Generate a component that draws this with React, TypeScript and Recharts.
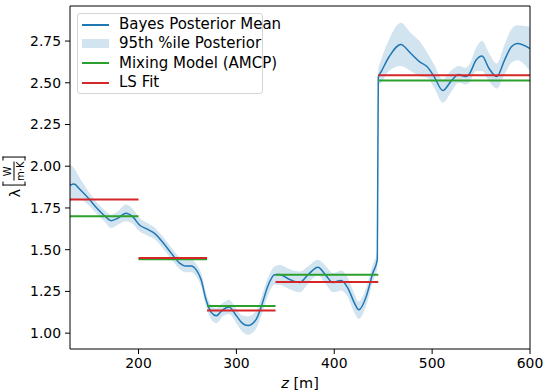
import React from "react";
import { ComposedChart, Area, Line, XAxis, YAxis, ReferenceLine } from "recharts";

// posterior samples (z in m)
const zPoints = [
  130, 134, 140, 150, 158, 165, 172, 179, 187, 194, 201, 209, 217, 226, 234, 242, 248, 254, 259, 264,
  269, 274.5, 279.5, 286, 292.5, 300, 306, 311.8, 320.4, 325.5, 332, 339, 344, 354, 364.6, 373, 383.3,
  391.8, 398.6, 404, 407, 413.9, 420.7, 425.1, 432.7, 439.4, 444, 445, 448, 456, 468, 478, 487, 495,
  502, 511, 519, 527, 534, 538, 545, 551, 558, 566, 574, 581, 587, 600,
];
const meanValues = [
  1.885, 1.893, 1.862, 1.8, 1.745, 1.705, 1.674, 1.689, 1.719, 1.698, 1.648, 1.623, 1.595, 1.535, 1.475,
  1.419, 1.402, 1.403, 1.379, 1.32, 1.2, 1.123, 1.104, 1.14, 1.156, 1.104, 1.06, 1.046, 1.084, 1.16, 1.28,
  1.35, 1.352, 1.323, 1.303, 1.349, 1.395, 1.343, 1.303, 1.313, 1.315, 1.27, 1.18, 1.14, 1.22, 1.36, 1.44,
  2.535, 2.567, 2.656, 2.73, 2.677, 2.627, 2.596, 2.537, 2.453, 2.507, 2.55, 2.537, 2.553, 2.636, 2.66,
  2.587, 2.537, 2.636, 2.716, 2.736, 2.705,
];
const lowerValues = [
  1.78, 1.8, 1.8, 1.76, 1.71, 1.67, 1.63, 1.65, 1.67, 1.655, 1.61, 1.585, 1.56, 1.5, 1.44, 1.385, 1.365,
  1.365, 1.34, 1.28, 1.16, 1.08, 1.06, 1.1, 1.115, 1.06, 1.01, 0.99, 1.03, 1.105, 1.22, 1.29, 1.29, 1.265,
  1.245, 1.295, 1.345, 1.29, 1.245, 1.25, 1.255, 1.215, 1.12, 1.085, 1.165, 1.31, 1.39, 2.48, 2.5, 2.57,
  2.6, 2.57, 2.54, 2.53, 2.47, 2.38, 2.44, 2.5, 2.49, 2.5, 2.57, 2.57, 2.51, 2.465, 2.55, 2.62, 2.635, 2.57,
];
const upperValues = [
  2.01, 1.99, 1.93, 1.84, 1.78, 1.74, 1.71, 1.73, 1.77, 1.745, 1.69, 1.66, 1.63, 1.57, 1.51, 1.455, 1.44,
  1.44, 1.415, 1.36, 1.24, 1.165, 1.15, 1.18, 1.2, 1.145, 1.105, 1.1, 1.135, 1.215, 1.33, 1.4, 1.41, 1.385,
  1.37, 1.4, 1.44, 1.4, 1.36, 1.37, 1.375, 1.33, 1.235, 1.19, 1.275, 1.41, 1.49, 2.58, 2.64, 2.76, 2.86,
  2.8, 2.75, 2.68, 2.61, 2.52, 2.57, 2.6, 2.59, 2.61, 2.71, 2.75, 2.68, 2.615, 2.73, 2.82, 2.845, 2.835,
];

// layer boundaries and piecewise constant fits
const layerBreaks = [130, 200, 270, 340, 445, 600];
const mixingValues = [1.7, 1.443, 1.163, 1.35, 2.513];
const lsValues = [1.8, 1.45, 1.135, 1.307, 2.545];

const xTicks = [200, 300, 400, 500, 600];
const yTicks = [1.0, 1.25, 1.5, 1.75, 2.0, 2.25, 2.5, 2.75];

const X_MIN = 130;
const X_MAX = 600;
const Y_MIN = 0.905;
const Y_MAX = 2.96;

const BLUE = "#1f77b4";
const GREEN = "#2ca02c";
const RED = "#d62728";
const FONT = "'DejaVu Sans', sans-serif";

const posterior = zPoints.map((z, i) => ({
  z,
  mean: meanValues[i],
  band: [lowerValues[i], upperValues[i]],
}));

const segments = (vals: number[]) =>
  vals.map((v, i) => [
    { z: layerBreaks[i], y: v },
    { z: layerBreaks[i + 1], y: v },
  ]);

const LegendRow = ({ swatch, label }: { swatch: React.ReactNode; label: string }) => (
  <div style={{ display: "flex", alignItems: "center", height: 19.3 }}>
    <div style={{ width: 27, display: "flex", alignItems: "center", marginRight: 10 }}>{swatch}</div>
    <span>{label}</span>
  </div>
);

const lineSwatch = (c: string) => <div style={{ width: 27, height: 2, background: c }} />;

export default function App() {
  return (
    <div style={{ position: "absolute", left: 0, top: 0, width: 544, height: 390, background: "#fff", fontFamily: FONT }}>
      <ComposedChart width={544} height={390} margin={{ top: 6, right: 14, bottom: 0, left: 0 }} data={posterior}>
        <XAxis
          dataKey="z"
          type="number"
          domain={[X_MIN, X_MAX]}
          ticks={xTicks}
          allowDataOverflow
          stroke="#000"
          tickSize={5}
          tickMargin={4}
          tick={{ fill: "#000", fontSize: 13.9, fontFamily: FONT }}
          height={41}
        />
        <YAxis
          type="number"
          domain={[Y_MIN, Y_MAX]}
          ticks={yTicks}
          allowDataOverflow
          width={70}
          stroke="#000"
          tickSize={5}
          tickMargin={4}
          tickFormatter={(v: number) => v.toFixed(2)}
          tick={{ fill: "#000", fontSize: 13.9, fontFamily: FONT }}
        />
        <Area
          dataKey="band"
          type="monotone"
          stroke="none"
          fill={BLUE}
          fillOpacity={0.2}
          isAnimationActive={false}
        />
        <Line dataKey="mean" type="monotone" stroke={BLUE} strokeWidth={1.5} dot={false} isAnimationActive={false} />
        {segments(mixingValues).map((d, i) => (
          <Line key={"m" + i} data={d} dataKey="y" stroke={GREEN} strokeWidth={2} dot={false} isAnimationActive={false} />
        ))}
        {segments(lsValues).map((d, i) => (
          <Line key={"l" + i} data={d} dataKey="y" stroke={RED} strokeWidth={2} dot={false} isAnimationActive={false} />
        ))}
        <ReferenceLine y={Y_MAX} stroke="#000" strokeWidth={1} />
        <ReferenceLine x={X_MAX} stroke="#000" strokeWidth={1} />
      </ComposedChart>

      {/* legend */}
      <div
        style={{
          position: "absolute",
          left: 77,
          top: 13,
          width: 186,
          boxSizing: "border-box",
          padding: "1px 0 1px 4px",
          border: "1px solid #d5d5d5",
          borderRadius: 3,
          background: "rgba(255,255,255,0.85)",
          fontSize: 15,
          color: "#000",
          lineHeight: 1,
          whiteSpace: "nowrap",
        }}
      >
        <LegendRow swatch={lineSwatch(BLUE)} label="Bayes Posterior Mean" />
        <LegendRow swatch={<div style={{ width: 27, height: 9, background: BLUE, opacity: 0.2 }} />} label="95th %ile Posterior" />
        <LegendRow swatch={lineSwatch(GREEN)} label="Mixing Model (AMCP)" />
        <LegendRow swatch={lineSwatch(RED)} label="LS Fit" />
      </div>

      {/* y label: lambda [W / m·K] */}
      <div
        style={{
          position: "absolute",
          left: 14,
          top: 177,
          transform: "translate(-50%, -50%) rotate(-90deg)",
          display: "flex",
          alignItems: "center",
          whiteSpace: "nowrap",
          fontSize: 14.5,
          color: "#000",
        }}
      >
        <span style={{ marginRight: 3 }}>λ</span>
        <span style={{ width: 3, height: 21, border: "1px solid #000", borderRight: "none" }} />
        <span style={{ display: "flex", flexDirection: "column", alignItems: "center", fontSize: 10, lineHeight: 1, margin: "0 1px" }}>
          <span>W</span>
          <span style={{ width: "100%", height: 0, borderTop: "1px solid #000", margin: "1px 0" }} />
          <span>m·K</span>
        </span>
        <span style={{ width: 3, height: 21, border: "1px solid #000", borderLeft: "none" }} />
      </div>

      {/* x label */}
      <div style={{ position: "absolute", left: 300, top: 383, transform: "translate(-50%, -50%)", fontSize: 14.5, color: "#000", whiteSpace: "nowrap" }}>
        <i>z</i> [m]
      </div>
    </div>
  );
}
